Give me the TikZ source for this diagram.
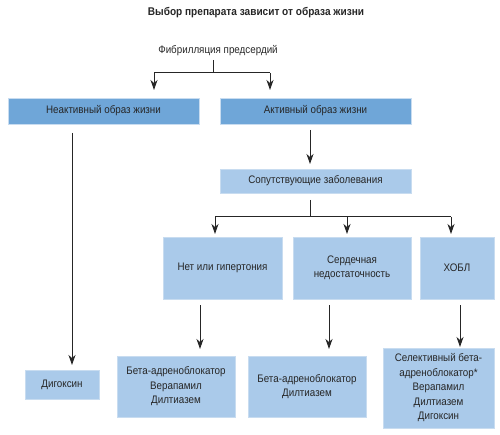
\documentclass[tikz,border=0pt]{standalone}
\usepackage{fontspec}
\setmainfont{Liberation Sans}[FakeStretch=0.9]
\usetikzlibrary{arrows.meta}
\definecolor{dark}{RGB}{111,166,216}
\definecolor{lite}{RGB}{170,202,234}
\definecolor{edge}{RGB}{200,220,240}
\begin{document}
\begin{tikzpicture}[x=1bp,y=-1bp,
  txt/.style={font=\fontsize{10.9bp}{14.5bp}\selectfont, text=black!85, align=center, inner sep=0pt},
  box/.style={txt, draw=edge, line width=0.8bp, minimum width=#1},
  dbox/.style={box=#1, fill=dark},
  lbox/.style={box=#1, fill=lite},
  arr/.style={-{Stealth[length=10bp,width=7bp,inset=3bp]}, line width=1bp, black!85},
  ln/.style={line width=1bp, black!85}]
\useasboundingbox (0,0) rectangle (500,435);
\node[txt, font=\fontsize{11.2bp}{13bp}\selectfont\bfseries] (title) at (256,13) {Выбор препарата зависит от образа жизни};
\node[txt] (fib) at (218,51) {Фибрилляция предсердий};
\node[dbox=191bp, minimum height=26bp] (inact) at (103.5,111) {Неактивный образ жизни};
\node[dbox=191bp, minimum height=26bp] (act) at (315.5,111) {Активный образ жизни};
\node[lbox=191bp, minimum height=24bp] (com) at (315.5,181) {Сопутствующие заболевания};
\node[lbox=119bp, minimum height=62bp] (n1) at (222.5,268) {Нет или гипертония};
\node[lbox=118bp, minimum height=62bp] (n2) at (352,268) {Сердечная\\недостаточность};
\node[lbox=74bp, minimum height=62bp] (n3) at (457,268) {ХОБЛ};
\node[lbox=74bp, minimum height=29bp] (dig) at (62,384.5) {Дигоксин};
\node[lbox=118bp, minimum height=61bp] (b1) at (176,386.5) {Бета-адреноблокатор\\Верапамил\\Дилтиазем};
\node[lbox=118bp, minimum height=61bp] (b2) at (307,386.5) {Бета-адреноблокатор\\Дилтиазем};
\node[lbox=111bp, minimum height=80bp] (b3) at (438.5,388) {Селективный бета-\\адреноблокатор*\\Верапамил\\Дилтиазем\\Дигоксин};
% top fork
\coordinate (f0) at (213,60);
\coordinate (f1) at (213,73);
\coordinate (fl) at (154,73);
\coordinate (fr) at (270,73);
\coordinate (fle) at (154,90);
\coordinate (fre) at (270,90);
\draw[ln] (f0) -- (f1);
\draw[ln] (fl) -- (fr);
\draw[arr] (fl) -- (fle);
\draw[arr] (fr) -- (fre);
% inactive -> digoxin
\coordinate (i0) at (72,133);
\coordinate (i1) at (72,365);
\draw[arr] (i0) -- (i1);
% active -> comorbid
\coordinate (a0) at (310,130);
\coordinate (a1) at (310,164);
\draw[arr] (a0) -- (a1);
% comorbid fork
\coordinate (c0) at (310,200);
\coordinate (c1) at (310,217);
\coordinate (cl) at (215,217);
\coordinate (cm) at (347,217);
\coordinate (cr) at (451,217);
\coordinate (cle) at (215,234);
\coordinate (cme) at (347,234);
\coordinate (cre) at (451,234);
\draw[ln] (c0) -- (c1);
\draw[ln] (cl) -- (cr);
\draw[arr] (cl) -- (cle);
\draw[arr] (cm) -- (cme);
\draw[arr] (cr) -- (cre);
% second row -> bottom
\coordinate (p0) at (200,305);
\coordinate (p1) at (200,349);
\coordinate (q0) at (329,305);
\coordinate (q1) at (329,349);
\coordinate (r0) at (460,305);
\coordinate (r1) at (460,347);
\draw[arr] (p0) -- (p1);
\draw[arr] (q0) -- (q1);
\draw[arr] (r0) -- (r1);
\end{tikzpicture}
\end{document}
